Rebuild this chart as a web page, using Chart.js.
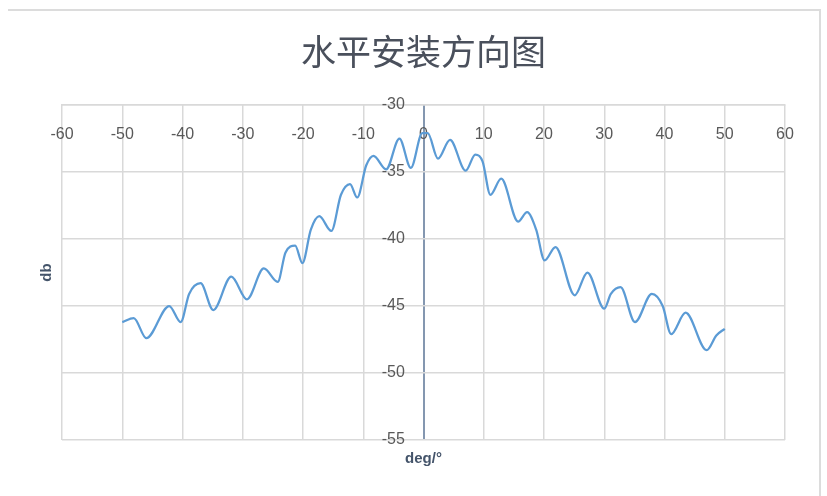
<!DOCTYPE html>
<html>
<head>
<meta charset="utf-8">
<script src="https://cdn.jsdelivr.net/npm/chart.js@4"></script>
<style>
  html, body { margin: 0; padding: 0; background: #fff; }
  #wrap { position: relative; width: 827px; height: 496px; }
  #frame { position: absolute; left: 8px; top: 9px; width: 811px; height: 490px;
           border-top: 2px solid #dcdcdc; border-right: 2px solid #dcdcdc; }
</style>
</head>
<body>
<div id="wrap">
  <div id="frame"></div>
  <canvas id="mainChart"></canvas>
</div>
<script>
// angle in degrees
const degX = [-50, -48.1, -46.0, -42.2, -40.3, -38.9, -37.0, -34.9, -31.9, -29.3, -26.5, -24.2, -22.9,
  -21.3, -20.1, -18.7, -17.3, -15.3, -13.7, -12.2, -11.0, -9.5, -8.3, -6.2, -4.0, -2.1, -0.2,
  0.7, 2.4, 4.4, 7.0, 8.6, 9.8, 11.1, 12.9, 15.7, 17.2, 18.7, 20.1, 21.9, 25.1, 27.2, 30.0,
  31.1, 32.7, 35.1, 37.9, 39.7, 41.1, 43.5, 47.0, 48.6, 50];
// level in db
const dbY = [-46.2, -45.9, -47.4, -45.0, -46.2, -44.1, -43.3, -45.3, -42.8, -44.5, -42.2, -43.2, -41.0,
  -40.5, -41.8, -39.3, -38.3, -39.4, -36.7, -35.9, -36.9, -34.5, -33.8, -34.8, -32.5, -34.7, -32.1,
  -32.1, -34.0, -32.6, -34.9, -33.7, -34.2, -36.7, -35.5, -38.7, -38.0, -39.3, -41.6, -40.6, -44.2, -42.5, -45.2,
  -44.1, -43.6, -46.2, -44.1, -45.0, -47.1, -45.5, -48.3, -47.2, -46.7];

const textColor = '#595959';
const gridColor = '#d9d9d9';
const axisColor = '#8497b0';

const axisTitles = {
    id: 'axisTitles',
    afterDraw(chart) {
        const {ctx, chartArea} = chart;
        ctx.save();
        ctx.fillStyle = '#44546a';
        ctx.font = 'bold 15px "Liberation Sans", sans-serif';
        ctx.textAlign = 'center';
        ctx.textBaseline = 'middle';
        ctx.fillText('deg/°', (chartArea.left + chartArea.right) / 2, chartArea.bottom + 19);
        ctx.translate(47, (chartArea.top + chartArea.bottom) / 2);
        ctx.rotate(-Math.PI / 2);
        ctx.fillText('db', 0, 0);
        ctx.restore();
    }
};

const createPatternChart = () => {
    return new Chart(document.getElementById('mainChart'), {
        type: 'scatter',
        data: {
            datasets: [{
                label: 'db',
                data: degX.map((x, i) => ({x, y: dbY[i]})),
                showLine: true,
                borderColor: '#5b9bd5',
                borderWidth: 2.25,
                pointRadius: 0,
                cubicInterpolationMode: 'monotone',
                fill: false,
            }]
        },
        options: {
            responsive: true,
            maintainAspectRatio: false,
            animation: false,
            layout: {
                padding: {left: 62, right: 42, bottom: 56, top: 0}
            },
            scales: {
                x: {
                    type: 'linear',
                    position: {y: -30},
                    min: -60,
                    max: 60,
                    ticks: {
                        stepSize: 10,
                        maxRotation: 0,
                        padding: 20,
                        color: textColor,
                        font: {family: '"Liberation Sans", sans-serif', size: 16}
                    },
                    // the vertical gridline at 0 doubles as the y axis line
                    grid: {
                        color: (c) => c.tick && c.tick.value === 0 ? axisColor : gridColor,
                        lineWidth: (c) => c.tick && c.tick.value === 0 ? 2 : 1.5,
                        drawTicks: false
                    },
                    border: {color: gridColor, width: 1.5}
                },
                y: {
                    type: 'linear',
                    // labels sit a little left of the axis line at 0
                    position: {x: -3.1},
                    min: -55,
                    max: -30,
                    ticks: {
                        stepSize: 5,
                        color: textColor,
                        font: {family: '"Liberation Sans", sans-serif', size: 16}
                    },
                    grid: {color: gridColor, lineWidth: 1.5, drawTicks: false},
                    border: {display: false}
                }
            },
            plugins: {
                legend: {display: false},
                tooltip: {enabled: false},
                title: {
                    display: true,
                    text: '水平安装方向图',
                    color: '#4a505c',
                    font: {family: '"Noto Sans CJK SC", sans-serif', size: 35, weight: 'normal', lineHeight: 1.2},
                    padding: {top: 31, bottom: 32}
                }
            }
        },
        plugins: [axisTitles]
    });
};

createPatternChart();
</script>
</body>
</html>
